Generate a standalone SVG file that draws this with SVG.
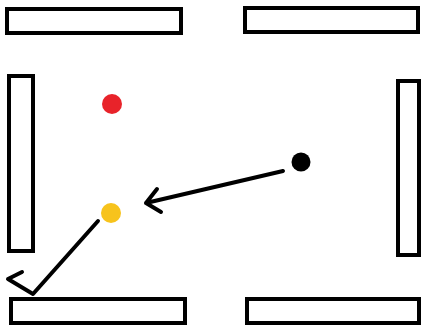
<svg xmlns="http://www.w3.org/2000/svg" width="422" height="327" viewBox="0 0 422 327">
<style>
.wall{fill:#fff;stroke:#000;stroke-width:4}
.ln{fill:none;stroke:#000;stroke-width:4;stroke-linecap:round;stroke-linejoin:round}
</style>
<rect width="422" height="327" fill="#fff"/>
<g id="wall-top-left"><rect class="wall" x="7" y="9" width="174" height="24"/></g>
<g id="wall-top-right"><rect class="wall" x="245" y="8" width="173" height="24"/></g>
<g id="wall-left"><rect class="wall" x="9" y="76" width="24" height="175"/></g>
<g id="wall-right"><rect class="wall" x="398" y="81" width="21" height="174"/></g>
<g id="wall-bottom-left"><rect class="wall" x="11" y="299" width="174" height="24"/></g>
<g id="wall-bottom-right"><rect class="wall" x="247" y="299" width="172" height="24"/></g>
<g id="red-dot"><circle cx="112" cy="104" r="10" fill="#e8232a"/></g>
<g id="black-dot"><circle cx="301" cy="162" r="9.5" fill="#000"/></g>
<g id="yellow-dot"><circle cx="111" cy="213" r="10" fill="#f7c31c"/></g>
<g id="connectors">
<path class="ln" d="M283,171 L146,203 M157,189 L146,203 L161,212"/>
<path class="ln" d="M98,221 L33,294 L8,279 L22,272"/>
</g>
</svg>
